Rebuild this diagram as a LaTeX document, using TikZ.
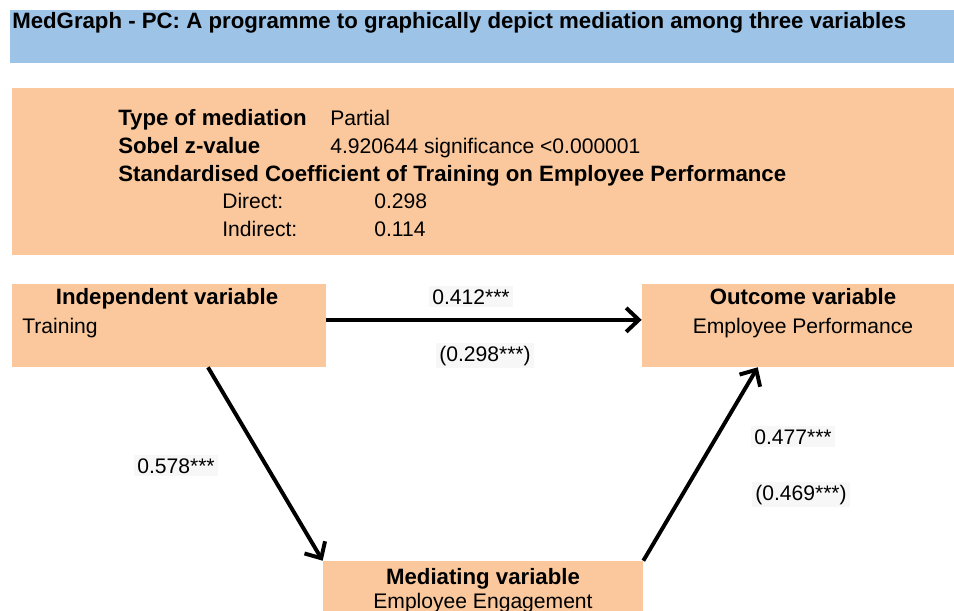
\documentclass[tikz,border=0pt]{standalone}
\usepackage{fontspec}
\setmainfont{Liberation Sans}
\usetikzlibrary{arrows.meta}
\definecolor{bannerblue}{HTML}{9DC3E6}
\definecolor{boxorange}{HTML}{FAC89C}
\begin{document}
\begin{tikzpicture}[x=0.025cm,y=-0.025cm,
  every node/.style={inner sep=0pt,font=\fontsize{15}{18}\selectfont},
  head/.style={font=\fontsize{15.8}{18}\selectfont\bfseries},
  varbox/.style={fill=boxorange,draw=none,rectangle},
  coef/.style={fill=black!3,inner sep=2pt},
  link/.style={line width=2.8pt,-{Straight Barb[length=9pt,width=17pt]}}]
\useasboundingbox (0,0) rectangle (954,611);
\clip (0,0) rectangle (954,611);
% header
\fill[bannerblue] (10,10) rectangle (954,63);
\node[head,anchor=base west] (title) at (12,29) {MedGraph - PC: A programme to graphically depict mediation among three variables};
% summary panel
\fill[boxorange] (12,88) rectangle (954,255);
\node[head,anchor=base west] (typelbl) at (118,125.5) {Type of mediation};
\node[anchor=base west] (typeval) at (330,125.5) {Partial};
\node[head,anchor=base west] (sobellbl) at (118,153.5) {Sobel z-value};
\node[anchor=base west] (sobelval) at (330,153.5) {4.920644 significance <0.000001};
\node[head,anchor=base west] (coeflbl) at (118,181) {Standardised Coefficient of Training on Employee Performance};
\node[anchor=base west] (directlbl) at (222,208) {Direct:};
\node[anchor=base west] (directval) at (374,208) {0.298};
\node[anchor=base west] (indirectlbl) at (222,236.5) {Indirect:};
\node[anchor=base west] (indirectval) at (374,236.5) {0.114};
% variables
\node[varbox,minimum width=7.85cm,minimum height=2.075cm] (indep) at (169,325.5) {};
\node[head,anchor=base] (indeptitle) at (167,304.5) {Independent variable};
\node[anchor=base west] (indepname) at (22,333) {Training};
\node[varbox,minimum width=7.95cm,minimum height=2.075cm] (outc) at (801,325.5) {};
\node[head,anchor=base] (outctitle) at (803,304.5) {Outcome variable};
\node[anchor=base] (outcname) at (803,333) {Employee Performance};
\node[varbox,minimum width=8cm,minimum height=2.475cm] (med) at (483,610.5) {};
\node[head,anchor=base] (medtitle) at (483,584) {Mediating variable};
\node[anchor=base] (medname) at (483,608) {Employee Engagement};
% paths
\draw[link] ([yshift=4pt]indep.east) -- ([yshift=4pt]outc.west);
\draw[link] (indep.-47.5) -- (med.north west);
\draw[link] (med.north east) -- (outc.-136.7);
\node[coef,anchor=base] (totc) at (471,304) {0.412***};
\node[coef,anchor=base] (dirc) at (485,361) {(0.298***)};
\node[coef,anchor=base] (pa) at (176,473) {0.578***};
\node[coef,anchor=base] (pb) at (793,444) {0.477***};
\node[coef,anchor=base] (pbc) at (801,500) {(0.469***)};
\end{tikzpicture}
\end{document}
